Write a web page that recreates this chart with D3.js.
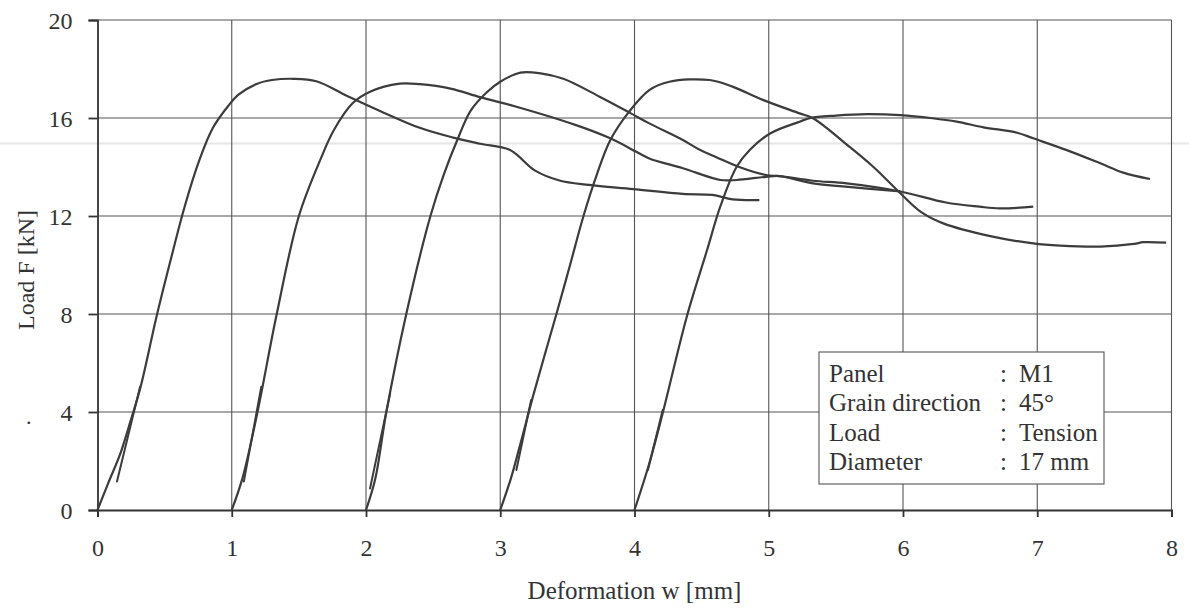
<!DOCTYPE html>
<html>
<head>
<meta charset="utf-8">
<script src="https://cdn.jsdelivr.net/npm/d3@7"></script>
<style>
  body { margin: 0; background: #fff; }
  svg text { font-family: "Liberation Serif", "Times New Roman", serif; fill: #333; }
</style>
</head>
<body>
<div id="main"></div>
<script>
// data
var xTicks = [0, 1, 2, 3, 4, 5, 6, 7, 8];
var yTicks = [0, 4, 8, 12, 16, 20];

var test1 = [[0,0],[0.08,1.1],[0.17,2.3],[0.25,3.7],[0.32,5.0],[0.44,7.9],[0.54,10.1],[0.65,12.4],[0.76,14.3],[0.86,15.6],[0.975,16.5],[1.05,16.95],[1.19,17.4],[1.3,17.55],[1.46,17.6],[1.63,17.5],[1.86,16.9],[2.1,16.3],[2.4,15.6],[2.65,15.2],[2.85,14.95],[3.07,14.7],[3.26,13.85],[3.44,13.45],[3.66,13.27],[3.99,13.1],[4.36,12.9],[4.58,12.86],[4.73,12.68],[4.93,12.65]];
var test2 = [[1.0,0],[1.08,1.3],[1.19,3.95],[1.335,8.0],[1.5,12.0],[1.66,14.3],[1.76,15.5],[1.9,16.6],[2.03,17.07],[2.25,17.4],[2.4,17.38],[2.63,17.2],[2.85,16.85],[3.12,16.46],[3.57,15.7],[3.82,15.17],[4.02,14.6],[4.11,14.35],[4.36,13.95],[4.64,13.47],[4.76,13.47],[4.98,13.6],[5.08,13.63],[5.33,13.33],[5.53,13.22],[5.98,13.0]];
var test3 = [[2.0,0],[2.07,1.3],[2.15,3.95],[2.30,8.0],[2.48,12.0],[2.58,13.7],[2.68,15.1],[2.78,16.3],[2.9,17.05],[3.0,17.48],[3.15,17.85],[3.3,17.82],[3.47,17.6],[3.74,16.87],[3.97,16.2],[4.11,15.78],[4.36,15.1],[4.49,14.69],[4.61,14.4],[4.78,14.0],[4.98,13.67],[5.08,13.63],[5.33,13.44],[5.58,13.33],[5.98,13.0],[6.32,12.55],[6.57,12.38],[6.72,12.31],[6.97,12.38]];
var test4 = [[3.0,0],[3.08,1.3],[3.15,2.7],[3.25,4.76],[3.42,8.03],[3.52,10.0],[3.62,12.0],[3.72,13.7],[3.82,15.1],[3.96,16.26],[4.11,17.14],[4.26,17.48],[4.56,17.55],[4.73,17.28],[4.96,16.73],[5.23,16.19],[5.33,15.99],[5.6,14.83],[5.78,14.0],[5.98,12.93],[6.13,12.18],[6.30,11.7],[6.65,11.18],[6.97,10.88],[7.17,10.79],[7.47,10.75],[7.72,10.86],[7.79,10.93],[7.96,10.91]];
var test5 = [[4.0,0],[4.11,1.9],[4.21,3.95],[4.39,7.9],[4.54,10.6],[4.64,12.4],[4.76,14.0],[4.86,14.7],[5.01,15.37],[5.23,15.85],[5.31,16.0],[5.5,16.1],[5.73,16.16],[5.98,16.12],[6.22,15.99],[6.40,15.85],[6.6,15.62],[6.85,15.4],[6.97,15.17],[7.22,14.69],[7.47,14.15],[7.64,13.77],[7.84,13.51]];

// short second traces at the start of every test
var start1 = [[0.145,1.16],[0.317,5.03]];
var start2 = [[1.09,1.16],[1.22,5.03]];
var start3 = [[2.03,0.88],[2.18,4.76]];
var start4 = [[3.12,1.63],[3.23,4.49]];
var start5 = [[4.1,1.63],[4.21,4.08]];

var legendKeys = ["Panel", "Grain direction", "Load", "Diameter"];
var legendValues = ["M1", "45°", "Tension", "17 mm"];

var width = 1189, height = 610;
var plotLeft = 97.5, plotRight = 1171.5, plotTop = 20, plotBottom = 510;

var svg = d3.select("#main").append("svg")
    .attr("width", width)
    .attr("height", height);

var x = d3.scaleLinear().domain([0, 8]).range([plotLeft, plotRight]);
var y = d3.scaleLinear().domain([0, 20]).range([plotBottom, plotTop]);

// faint scan streak
svg.append("line")
    .attr("x1", 0).attr("x2", width)
    .attr("y1", 143.5).attr("y2", 143.5)
    .attr("stroke", "#e6e6e6")
    .attr("stroke-width", 2);

// grid
svg.append("g").selectAll("line").data(xTicks.slice(1)).enter().append("line")
    .attr("x1", function(d) { return x(d); })
    .attr("x2", function(d) { return x(d); })
    .attr("y1", plotTop).attr("y2", plotBottom)
    .attr("stroke", "#555").attr("stroke-width", 1.1);

svg.append("g").selectAll("line").data(yTicks.slice(1)).enter().append("line")
    .attr("x1", plotLeft).attr("x2", plotRight)
    .attr("y1", function(d) { return y(d); })
    .attr("y2", function(d) { return y(d); })
    .attr("stroke", "#555").attr("stroke-width", 1.1);

// axes
var xAxis = svg.append("g")
    .attr("transform", "translate(0," + plotBottom + ")")
    .call(d3.axisBottom(x).tickValues(xTicks).tickSize(7).tickPadding(22).tickFormat(d3.format("d")));
var yAxis = svg.append("g")
    .attr("transform", "translate(" + plotLeft + ",0)")
    .call(d3.axisLeft(y).tickValues(yTicks).tickSize(9).tickPadding(16).tickFormat(d3.format("d")));

[xAxis, yAxis].forEach(function(a) {
    a.select(".domain").attr("stroke", "#333").attr("stroke-width", 1.8);
    a.selectAll(".tick line").attr("stroke", "#333").attr("stroke-width", 1.8);
    a.selectAll("text")
        .attr("fill", "#333")
        .attr("font-size", "24px")
        .attr("font-family", "Liberation Serif");
});
yAxis.selectAll("text").attr("dy", "0.36em");

// curves
var smooth = d3.line()
    .curve(d3.curveCatmullRom.alpha(0.5))
    .x(function(d) { return x(d[0]); })
    .y(function(d) { return y(d[1]); });
var straight = d3.line()
    .x(function(d) { return x(d[0]); })
    .y(function(d) { return y(d[1]); });

var tests = [test1, test2, test3, test4, test5];
var starts = [start1, start2, start3, start4, start5];

svg.append("g").selectAll("path").data(tests).enter().append("path")
    .attr("d", smooth)
    .attr("fill", "none")
    .attr("stroke", "#3c3c3c")
    .attr("stroke-width", 2.2)
    .attr("stroke-linejoin", "round");

svg.append("g").selectAll("path").data(starts).enter().append("path")
    .attr("d", straight)
    .attr("fill", "none")
    .attr("stroke", "#3c3c3c")
    .attr("stroke-width", 2)
    .attr("stroke-linecap", "round");

// axis titles
svg.append("text")
    .text("Deformation w [mm]")
    .attr("x", (plotLeft + plotRight) / 2)
    .attr("y", 599)
    .attr("text-anchor", "middle")
    .attr("font-size", "25px");

svg.append("text")
    .text("Load F [kN]")
    .attr("transform", "translate(34,270) rotate(-90)")
    .attr("text-anchor", "middle")
    .attr("font-size", "24px");

svg.append("text")
    .text(".")
    .attr("x", 26).attr("y", 424)
    .attr("font-size", "22px");

// info box
var box = svg.append("g");
box.append("rect")
    .attr("x", 819).attr("y", 352)
    .attr("width", 285).attr("height", 132)
    .attr("fill", "#fff")
    .attr("stroke", "#555")
    .attr("stroke-width", 1.1);

legendKeys.forEach(function(k, i) {
    var ty = 382 + i * 29.3;
    box.append("text").text(k).attr("x", 829).attr("y", ty).attr("font-size", "25px");
    box.append("text").text(":").attr("x", 1000).attr("y", ty).attr("font-size", "25px");
    box.append("text").text(legendValues[i]).attr("x", 1019).attr("y", ty).attr("font-size", "25px");
});
</script>
</body>
</html>
